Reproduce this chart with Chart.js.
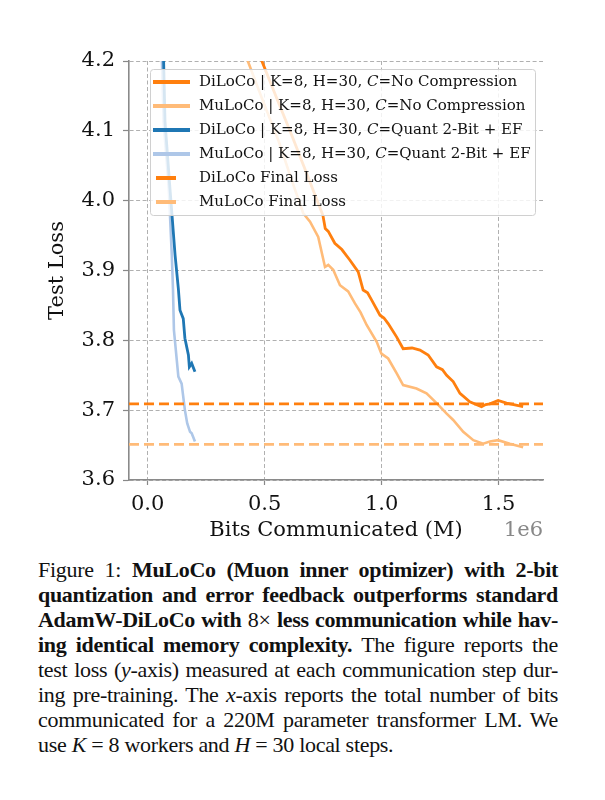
<!DOCTYPE html>
<html>
<head>
<meta charset="utf-8">
<script src="https://cdn.jsdelivr.net/npm/chart.js"></script>
<style>
  body { margin: 0; background: #fff; }
  #wrap { position: relative; width: 605px; height: 545px; }
  .caption {
    margin: 12px 0 0 38px;
    width: 520px;
    font-family: "Liberation Serif", "Times New Roman", serif;
    font-size: 22px;
    letter-spacing: -0.3px;
    line-height: 25px;
    color: #111;
  }
  .caption div { text-align: justify; text-align-last: justify; white-space: nowrap; }
  .caption div.last { text-align: left; text-align-last: left; }
  .caption i { font-style: italic; }
</style>
</head>
<body>
<div id="wrap"><canvas id="chart" width="605" height="545"></canvas></div>
<div class="caption">
  <div>Figure 1: <b>MuLoCo (Muon inner optimizer) with 2-bit</b></div>
  <div><b>quantization and error feedback outperforms standard</b></div>
  <div><b>AdamW-DiLoCo with</b> 8× <b>less communication while hav-</b></div>
  <div><b>ing identical memory complexity.</b> The figure reports the</div>
  <div>test loss (<i>y</i>-axis) measured at each communication step dur-</div>
  <div>ing pre-training. The <i>x</i>-axis reports the total number of bits</div>
  <div>communicated for a 220M parameter transformer LM. We</div>
  <div class="last">use <i>K</i> = 8 workers and <i>H</i> = 30 local steps.</div>
</div>
<script>
// bits communicated (in 1e6) and test loss
const diNoCompX = [0.47, 0.488, 0.55, 0.62, 0.69, 0.749, 0.759, 0.772, 0.800, 0.830, 0.864, 0.900, 0.921, 0.940, 0.957, 0.993, 1.010, 1.028, 1.064, 1.092, 1.130, 1.164, 1.199, 1.235, 1.260, 1.278, 1.306, 1.335, 1.377, 1.427, 1.445, 1.463, 1.498, 1.534, 1.605];
const diNoCompY = [4.22, 4.20, 4.148, 4.09, 4.03, 3.979, 3.960, 3.956, 3.939, 3.930, 3.915, 3.898, 3.872, 3.868, 3.858, 3.836, 3.832, 3.824, 3.805, 3.788, 3.789, 3.786, 3.779, 3.762, 3.758, 3.750, 3.741, 3.724, 3.712, 3.705, 3.708, 3.709, 3.714, 3.710, 3.705];

const muNoCompX = [0.41, 0.428, 0.49, 0.56, 0.62, 0.665, 0.694, 0.729, 0.758, 0.772, 0.793, 0.822, 0.857, 0.886, 0.910, 0.936, 0.979, 0.999, 1.028, 1.064, 1.092, 1.149, 1.192, 1.235, 1.278, 1.306, 1.349, 1.392, 1.434, 1.463, 1.498, 1.548, 1.605];
const muNoCompY = [4.22, 4.20, 4.145, 4.085, 4.025, 3.982, 3.970, 3.948, 3.905, 3.908, 3.901, 3.879, 3.870, 3.853, 3.840, 3.822, 3.798, 3.781, 3.774, 3.753, 3.736, 3.731, 3.724, 3.710, 3.695, 3.686, 3.669, 3.657, 3.652, 3.655, 3.657, 3.652, 3.647];

const diQuantX = [0.066, 0.068, 0.074, 0.095, 0.117, 0.131, 0.138, 0.152, 0.159, 0.174, 0.178, 0.188, 0.202];
const diQuantY = [4.25, 4.20, 4.113, 4.018, 3.922, 3.874, 3.843, 3.831, 3.803, 3.779, 3.762, 3.767, 3.755];

const muQuantX = [0.059, 0.061, 0.068, 0.090, 0.103, 0.108, 0.112, 0.131, 0.145, 0.159, 0.169, 0.181, 0.188, 0.202];
const muQuantY = [4.25, 4.20, 4.113, 4.018, 3.922, 3.874, 3.815, 3.748, 3.738, 3.700, 3.681, 3.669, 3.667, 3.655];

const diFinalLoss = 3.709;
const muFinalLoss = 3.651;

const xMin = -0.08, xMax = 1.69;
const yMin = 3.6, yMax = 4.2;
const yTicks = [3.6, 3.7, 3.8, 3.9, 4.0, 4.1, 4.2];
const xTicks = [0.0, 0.5, 1.0, 1.5];

const legendLabels = [
  ['DiLoCo | K=8, H=30, ', 'C', '=No Compression'],
  ['MuLoCo | K=8, H=30, ', 'C', '=No Compression'],
  ['DiLoCo | K=8, H=30, ', 'C', '=Quant 2-Bit + EF'],
  ['MuLoCo | K=8, H=30, ', 'C', '=Quant 2-Bit + EF'],
  ['DiLoCo Final Loss'],
  ['MuLoCo Final Loss'],
];

const ORANGE = '#ff7f0e', LORANGE = '#ffbb78', BLUE = '#1f77b4', LBLUE = '#aec7e8';
const SERIF = '"DejaVu Serif", serif';

const pts = (xs, ys) => xs.map((x, i) => ({ x: x, y: ys[i] }));
const hline = (v) => [{ x: xMin, y: v }, { x: xMax, y: v }];

const datasets = [
  { data: pts(diNoCompX, diNoCompY), borderColor: ORANGE, borderWidth: 2.8, order: 3 },
  { data: pts(muNoCompX, muNoCompY), borderColor: LORANGE, borderWidth: 2.6, order: 4 },
  { data: pts(diQuantX, diQuantY), borderColor: BLUE, borderWidth: 2.8, order: 5 },
  { data: pts(muQuantX, muQuantY), borderColor: LBLUE, borderWidth: 2.6, order: 6 },
  { data: hline(diFinalLoss), borderColor: ORANGE, borderWidth: 2.8, borderDash: [10, 5], order: 1 },
  { data: hline(muFinalLoss), borderColor: LORANGE, borderWidth: 2.8, borderDash: [10, 5], order: 2 },
].map((d, i) => Object.assign(d, {
  label: legendLabels[i].join(''),
  pointRadius: 0,
  tension: 0,
  fill: false,
}));

// matplotlib-like legend box drawn over the lines
const legendBox = {
  id: 'legendBox',
  afterDatasetsDraw(chart) {
    const ctx = chart.ctx;
    const x0 = 150, y0 = 69, w = 385, h = 146;
    ctx.save();
    ctx.fillStyle = 'rgba(255,255,255,0.82)';
    ctx.strokeStyle = '#d0d0d0';
    ctx.lineWidth = 1;
    ctx.beginPath();
    ctx.roundRect(x0 + 0.5, y0 + 0.5, w, h, 3);
    ctx.fill();
    ctx.stroke();

    ctx.textBaseline = 'middle';
    datasets.forEach((ds, i) => {
      const y = 82 + i * 24;
      ctx.strokeStyle = ds.borderColor;
      ctx.lineWidth = 4;
      ctx.setLineDash(ds.borderDash ? [20, 30] : []);
      ctx.lineDashOffset = ds.borderDash ? -3 : 0;
      ctx.beginPath();
      ctx.moveTo(153, y);
      ctx.lineTo(190, y);
      ctx.stroke();
      ctx.setLineDash([]);

      let tx = 199;
      ctx.fillStyle = '#111';
      legendLabels[i].forEach((part, j) => {
        ctx.font = (j === 1 ? 'italic ' : '') + '15px ' + SERIF;
        ctx.fillText(part, tx, y);
        tx += ctx.measureText(part).width;
      });
    });

    // offset text of the x axis
    ctx.font = '21px ' + SERIF;
    ctx.fillStyle = '#888';
    ctx.textAlign = 'right';
    ctx.fillText('1e6', 543, 531);
    ctx.restore();
  }
};

new Chart(document.getElementById('chart'), {
  type: 'line',
  data: { datasets: datasets },
  options: {
    responsive: false,
    animation: false,
    events: [],
    layout: { padding: { top: 61, right: 62, left: 0, bottom: 0 } },
    plugins: { legend: { display: false }, tooltip: { enabled: false } },
    scales: {
      x: {
        type: 'linear',
        min: xMin,
        max: xMax,
        afterFit: (s) => { s.height = 65; },
        afterBuildTicks: (s) => { s.ticks = xTicks.map(v => ({ value: v })); },
        ticks: {
          font: { family: SERIF, size: 21 },
          color: '#111',
          padding: 7,
          maxRotation: 0,
          callback: (v) => v.toFixed(1),
        },
        grid: { color: '#b0b0b0', lineWidth: 1, tickLength: 5, tickColor: '#888', tickWidth: 1.2, tickBorderDash: [] },
        border: { display: true, color: '#8a8a8a', width: 1.6, dash: [4, 2.5] },
        title: {
          display: true,
          text: 'Bits Communicated (M)',
          font: { family: SERIF, size: 21 },
          color: '#111',
          padding: { top: 0, bottom: 2 },
        },
      },
      y: {
        type: 'linear',
        min: yMin,
        max: yMax,
        afterFit: (s) => { s.width = 129; },
        afterBuildTicks: (s) => { s.ticks = yTicks.map(v => ({ value: v })); },
        ticks: {
          font: { family: SERIF, size: 21 },
          color: '#111',
          padding: 8,
          callback: (v) => v.toFixed(1),
        },
        grid: { color: '#b0b0b0', lineWidth: 1, tickLength: 6, tickColor: '#888', tickWidth: 1.2, tickBorderDash: [] },
        border: { display: true, color: '#8a8a8a', width: 1.6, dash: [4, 2.5] },
        title: {
          display: true,
          text: 'Test Loss',
          font: { family: SERIF, size: 21 },
          color: '#111',
          padding: { top: 45, bottom: 0 },
        },
      },
    },
  },
  plugins: [legendBox],
});
</script>
</body>
</html>
